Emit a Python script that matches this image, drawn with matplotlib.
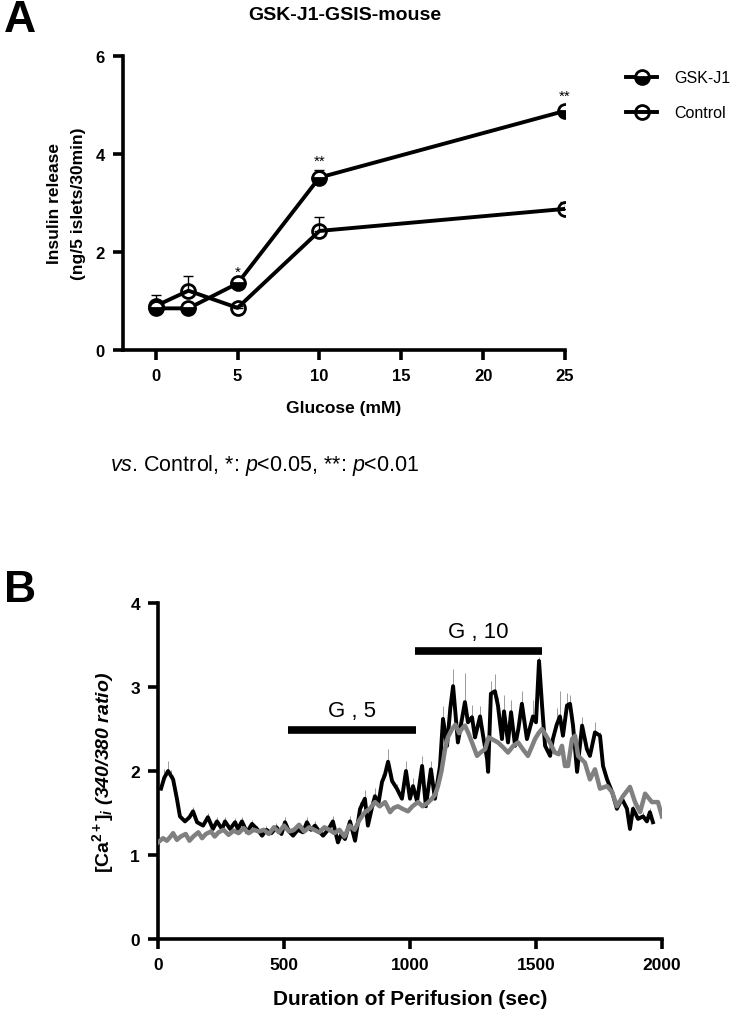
import matplotlib
matplotlib.use("Agg")
import matplotlib.pyplot as plt
import numpy as np

plt.rcParams['font.family'] = ['Liberation Sans', 'DejaVu Sans']
plt.rcParams['mathtext.fontset'] = 'custom'
plt.rcParams['mathtext.rm'] = 'Liberation Sans'
plt.rcParams['mathtext.it'] = 'Liberation Sans:italic'
plt.rcParams['mathtext.bf'] = 'Liberation Sans:bold'
plt.rcParams['mathtext.bfit'] = 'Liberation Sans:bold:italic'

# ---------------- Panel A data ----------------
glucose = [0, 2, 5, 10, 25]
gsk_mean = [0.85, 0.85, 1.36, 3.52, 4.88]
gsk_err = [0.05, 0.05, 0.06, 0.16, 0.12]
ctl_mean = [0.90, 1.21, 0.86, 2.43, 2.88]
ctl_err = [0.22, 0.30, 0.04, 0.28, 0.15]
a_xticks = [0, 5, 10, 15, 20, 25]
a_yticks = [0, 2, 4, 6]
sig_labels = {5: '*', 10: '**', 25: '**'}

# ---------------- Panel B data ----------------
t_gsk = [12, 25, 40, 50, 60, 75, 87, 107, 125, 139, 155, 179, 198, 218, 234, 254, 266, 286,
         306, 317, 333, 353, 373, 393, 413, 430, 450, 470, 490, 504, 520, 536, 555, 575, 591,
         607, 623, 640, 655, 675, 694, 714, 728, 742, 762, 782, 802, 821, 833, 848, 861, 875,
         889, 900, 913, 929, 948, 968, 984, 1000, 1012, 1028, 1048, 1063, 1083, 1099, 1119,
         1131, 1147, 1160, 1171, 1180, 1190, 1205, 1218, 1230, 1246, 1258, 1278, 1290, 1306,
         1310, 1321, 1337, 1349, 1365, 1373, 1389, 1401, 1417, 1430, 1444, 1464, 1488, 1500,
         1512, 1524, 1536, 1556, 1567, 1582, 1595, 1607, 1623, 1635, 1647, 1663, 1683, 1702,
         1714, 1734, 1754, 1766, 1782, 1802, 1821, 1841, 1861, 1873, 1885, 1905, 1925, 1940,
         1952, 1964]
ca_gsk = [1.79, 1.92, 2.00, 1.95, 1.90, 1.67, 1.46, 1.40, 1.45, 1.52, 1.39, 1.35, 1.45, 1.31,
          1.40, 1.31, 1.40, 1.31, 1.39, 1.31, 1.40, 1.27, 1.37, 1.31, 1.23, 1.30, 1.26, 1.33,
          1.25, 1.39, 1.28, 1.23, 1.30, 1.27, 1.39, 1.30, 1.35, 1.28, 1.23, 1.30, 1.40, 1.15,
          1.25, 1.19, 1.40, 1.17, 1.55, 1.67, 1.35, 1.55, 1.70, 1.62, 1.87, 1.95, 2.11, 1.88,
          1.79, 1.67, 2.00, 1.67, 1.82, 1.64, 2.06, 1.58, 2.02, 1.67, 2.06, 2.62, 2.30, 2.75,
          3.01, 2.70, 2.34, 2.60, 2.82, 2.58, 2.64, 2.40, 2.65, 2.42, 2.14, 1.99, 2.92, 2.95,
          2.78, 2.38, 2.71, 2.34, 2.70, 2.30, 2.50, 2.80, 2.38, 2.65, 2.58, 3.31, 2.78, 2.30,
          2.18, 2.38, 2.55, 2.65, 2.42, 2.78, 2.80, 2.54, 1.99, 2.54, 2.26, 2.18, 2.46, 2.42,
          2.06, 1.90, 1.75, 1.55, 1.67, 1.55, 1.31, 1.55, 1.43, 1.46, 1.40, 1.51, 1.39]
err_gsk = [0.05, 0.10, 0.12, 0.06, 0.05, 0.04, 0.04, 0.03, 0.05, 0.05, 0.03, 0.03, 0.05, 0.03,
           0.05, 0.03, 0.05, 0.03, 0.05, 0.03, 0.05, 0.03, 0.05, 0.03, 0.03, 0.05, 0.03, 0.05,
           0.03, 0.06, 0.03, 0.03, 0.05, 0.03, 0.06, 0.03, 0.05, 0.03, 0.03, 0.05, 0.06, 0.03,
           0.03, 0.03, 0.06, 0.03, 0.08, 0.10, 0.03, 0.08, 0.10, 0.06, 0.10, 0.08, 0.15, 0.05,
           0.06, 0.05, 0.12, 0.05, 0.10, 0.05, 0.12, 0.05, 0.10, 0.05, 0.08, 0.15, 0.06, 0.15,
           0.20, 0.08, 0.05, 0.10, 0.35, 0.08, 0.15, 0.05, 0.12, 0.05, 0.05, 0.05, 0.15, 0.20,
           0.10, 0.05, 0.20, 0.05, 0.15, 0.05, 0.10, 0.15, 0.05, 0.20, 0.05, 0.05, 0.05, 0.05,
           0.05, 0.10, 0.20, 0.30, 0.05, 0.15, 0.10, 0.10, 0.05, 0.10, 0.05, 0.05, 0.12, 0.05,
           0.05, 0.05, 0.05, 0.03, 0.05, 0.03, 0.03, 0.05, 0.03, 0.05, 0.03, 0.05, 0.03]
t_ctl = [0, 8, 20, 35, 50, 60, 75, 90, 110, 125, 140, 160, 175, 190, 210, 225, 240, 260, 280,
         300, 320, 340, 360, 380, 400, 420, 440, 460, 480, 500, 520, 540, 560, 580, 600, 620,
         640, 660, 680, 700, 720, 740, 760, 780, 800, 821, 840, 861, 880, 901, 921, 935, 952,
         970, 992, 1010, 1032, 1050, 1070, 1087, 1100, 1111, 1125, 1139, 1150, 1167, 1180,
         1195, 1205, 1218, 1232, 1246, 1266, 1280, 1298, 1312, 1325, 1349, 1370, 1389, 1410,
         1429, 1450, 1468, 1485, 1496, 1510, 1524, 1548, 1575, 1590, 1603, 1615, 1627, 1643,
         1655, 1667, 1694, 1714, 1734, 1754, 1782, 1802, 1821, 1845, 1873, 1893, 1913, 1933,
         1960, 1984, 2000]
ca_ctl = [1.15, 1.17, 1.20, 1.17, 1.22, 1.26, 1.18, 1.22, 1.25, 1.17, 1.22, 1.27, 1.20, 1.25,
          1.28, 1.22, 1.27, 1.30, 1.24, 1.29, 1.26, 1.32, 1.26, 1.30, 1.28, 1.30, 1.25, 1.33,
          1.27, 1.35, 1.28, 1.30, 1.36, 1.28, 1.33, 1.30, 1.27, 1.33, 1.30, 1.26, 1.30, 1.22,
          1.35, 1.30, 1.42, 1.51, 1.55, 1.63, 1.58, 1.63, 1.51, 1.56, 1.58, 1.55, 1.52, 1.58,
          1.63, 1.58, 1.62, 1.67, 1.72, 1.82, 2.00, 2.26, 2.40, 2.50, 2.55, 2.45, 2.50, 2.54,
          2.45, 2.34, 2.18, 2.22, 2.26, 2.40, 2.38, 2.34, 2.28, 2.22, 2.30, 2.34, 2.25, 2.18,
          2.30, 2.38, 2.45, 2.50, 2.38, 2.22, 2.20, 2.30, 2.06, 2.06, 2.38, 2.42, 2.18, 2.10,
          1.90, 2.02, 1.79, 1.82, 1.75, 1.58, 1.70, 1.81, 1.63, 1.51, 1.73, 1.63, 1.63, 1.46]
b_xticks = [0, 500, 1000, 1500, 2000]
b_yticks = [0, 1, 2, 3, 4]
bars = [("G , 5", 516, 1024, 2.49), ("G , 10", 1020, 1524, 3.43)]

W, H = 755, 1020
fig = plt.figure(figsize=(W / 100, H / 100), dpi=100)

SPW = 2.6

def style_axes(ax, size):
    for s in ['top', 'right']:
        ax.spines[s].set_visible(False)
    for s in ['left', 'bottom']:
        ax.spines[s].set_linewidth(SPW)
    ax.tick_params(width=SPW, length=7, labelsize=size, pad=6)
    for lab in ax.get_xticklabels() + ax.get_yticklabels():
        lab.set_fontweight('bold')

# ---------------- Panel A ----------------
axA = fig.add_axes([123 / W, 1 - 351 / H, (565 - 123) / W, (351 - 57) / H])
axA.errorbar(glucose, ctl_mean, yerr=[[0] * 5, ctl_err], fmt='none', ecolor='black',
             elinewidth=1.0, capsize=3.5, capthick=1.0, zorder=2)
axA.errorbar(glucose, gsk_mean, yerr=[[0] * 5, gsk_err], fmt='none', ecolor='black',
             elinewidth=1.0, capsize=3.5, capthick=1.0, zorder=2)
axA.plot(glucose, ctl_mean, '-o', color='black', lw=2.8, ms=10, mfc='none', mec='black',
         mew=2.0, label='Control', zorder=3)
axA.plot(glucose, gsk_mean, '-o', color='black', lw=2.8, ms=10, mfc='black', mec='black',
         mew=2.0, fillstyle='bottom', markerfacecoloralt='white', label='GSK-J1', zorder=4)
for xv, s in sig_labels.items():
    i = glucose.index(xv)
    axA.text(xv, gsk_mean[i] + gsk_err[i] + 0.04, s, ha='center', va='bottom', fontsize=11)
axA.set_xlim(-2, 25)
axA.set_ylim(0, 6)
axA.set_xticks(a_xticks)
axA.set_yticks(a_yticks)
axA.spines['bottom'].set_bounds(-2, 25)
style_axes(axA, 12)
axA.set_xlabel('Glucose (mM)', fontsize=12.5, fontweight='bold', labelpad=12)
axA.set_ylabel('Insulin release\n(ng/5 islets/30min)', fontsize=12.5, fontweight='bold',
               labelpad=7, linespacing=1.75)
h, l = axA.get_legend_handles_labels()
fig.legend(h[::-1], l[::-1], loc='upper left', bbox_to_anchor=(620 / W, 1 - 65 / H),
           frameon=False, fontsize=11.5, handlelength=1.9, labelspacing=1.25,
           handletextpad=1.1, borderaxespad=0)

fig.text(345 / W, 1 - 16 / H, 'GSK-J1-GSIS-mouse', ha='center', va='center',
         fontsize=14, fontweight='bold')
fig.text(4 / W, 1 - 20 / H, 'A', ha='left', va='center', fontsize=32, fontweight='bold')
fig.text(110 / W, 1 - 466 / H, r'$\it{vs}$. Control, *: $\it{p}$<0.05, **: $\it{p}$<0.01',
         ha='left', va='center', fontsize=15.5)

# ---------------- Panel B ----------------
fig.text(4 / W, 1 - 590 / H, 'B', ha='left', va='center', fontsize=32, fontweight='bold')
axB = fig.add_axes([158 / W, 1 - 940 / H, (662 - 158) / W, (940 - 604) / H])
axB.errorbar(t_gsk, ca_gsk, yerr=[[0] * len(err_gsk), err_gsk], fmt='none',
             ecolor='#9a9a9a', elinewidth=0.7, capsize=0, zorder=2)
axB.plot(t_gsk, ca_gsk, color='black', lw=2.8, zorder=3)
axB.plot(t_ctl, ca_ctl, color='#808080', lw=3.2, zorder=4)
for txt, x0, x1, yv in bars:
    axB.plot([x0, x1], [yv, yv], color='black', lw=5.5, solid_capstyle='butt')
    axB.text((x0 + x1) / 2, yv + 0.1, txt, ha='center', va='bottom', fontsize=16)
axB.set_xlim(0, 2000)
axB.set_ylim(0, 4)
axB.set_xticks(b_xticks)
axB.set_yticks(b_yticks)
style_axes(axB, 12.5)
axB.set_xlabel('Duration of Perifusion (sec)', fontsize=15, fontweight='bold', labelpad=12)
axB.set_ylabel(r'$\mathbf{[Ca^{2+}]}_{\mathbfit{i}}$ $\mathbfit{(340/380\ ratio)}$',
               fontsize=14, labelpad=10)

fig.savefig('out.png', dpi=100)
